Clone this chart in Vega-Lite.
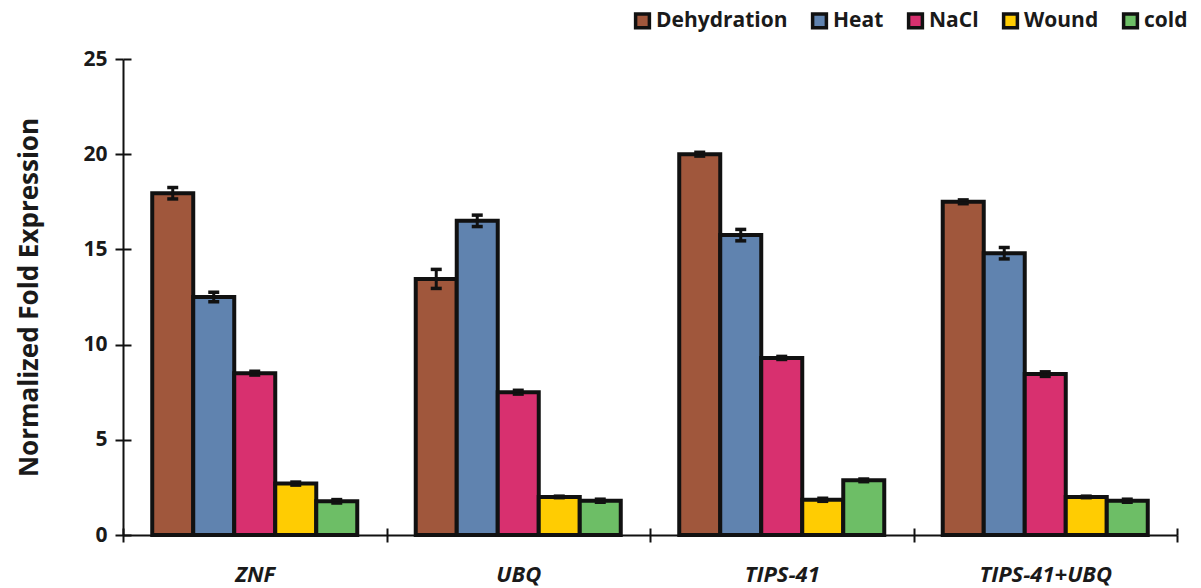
{
  "$schema": "https://vega.github.io/schema/vega-lite/v6.json",
  "autosize": {"type": "none"},
  "width": 1054,
  "height": 476,
  "padding": {"left": 123, "top": 59, "right": 24, "bottom": 53},
  "background": "white",
  "config": {"view": {"stroke": null}, "font": "Open Sans"},
  "data": {"values": [
    {"gene": "ZNF", "stress": "Dehydration", "value": 17.95, "lo": 17.65, "hi": 18.25},
    {"gene": "ZNF", "stress": "Heat", "value": 12.5, "lo": 12.25, "hi": 12.75},
    {"gene": "ZNF", "stress": "NaCl", "value": 8.5, "lo": 8.4, "hi": 8.6},
    {"gene": "ZNF", "stress": "Wound", "value": 2.7, "lo": 2.62, "hi": 2.78},
    {"gene": "ZNF", "stress": "cold", "value": 1.77, "lo": 1.68, "hi": 1.86},
    {"gene": "UBQ", "stress": "Dehydration", "value": 13.45, "lo": 12.95, "hi": 13.95},
    {"gene": "UBQ", "stress": "Heat", "value": 16.5, "lo": 16.2, "hi": 16.8},
    {"gene": "UBQ", "stress": "NaCl", "value": 7.5, "lo": 7.4, "hi": 7.6},
    {"gene": "UBQ", "stress": "Wound", "value": 2.0, "lo": 1.96, "hi": 2.04},
    {"gene": "UBQ", "stress": "cold", "value": 1.8, "lo": 1.72, "hi": 1.88},
    {"gene": "TIPS-41", "stress": "Dehydration", "value": 20.0, "lo": 19.9, "hi": 20.1},
    {"gene": "TIPS-41", "stress": "Heat", "value": 15.75, "lo": 15.45, "hi": 16.05},
    {"gene": "TIPS-41", "stress": "NaCl", "value": 9.3, "lo": 9.22, "hi": 9.38},
    {"gene": "TIPS-41", "stress": "Wound", "value": 1.85, "lo": 1.77, "hi": 1.93},
    {"gene": "TIPS-41", "stress": "cold", "value": 2.87, "lo": 2.8, "hi": 2.94},
    {"gene": "TIPS-41+UBQ", "stress": "Dehydration", "value": 17.5, "lo": 17.4, "hi": 17.6},
    {"gene": "TIPS-41+UBQ", "stress": "Heat", "value": 14.8, "lo": 14.5, "hi": 15.1},
    {"gene": "TIPS-41+UBQ", "stress": "NaCl", "value": 8.45, "lo": 8.33, "hi": 8.57},
    {"gene": "TIPS-41+UBQ", "stress": "Wound", "value": 2.0, "lo": 1.96, "hi": 2.04},
    {"gene": "TIPS-41+UBQ", "stress": "cold", "value": 1.8, "lo": 1.72, "hi": 1.88}
  ]},
  "resolve": {"axis": {"x": "independent", "y": "independent"}},
  "layer": [
    {
      "mark": {"type": "bar", "stroke": "#111111", "strokeWidth": 4},
      "encoding": {
        "x": {
          "field": "gene", "type": "nominal",
          "sort": ["ZNF", "UBQ", "TIPS-41", "TIPS-41+UBQ"],
          "scale": {"paddingInner": 0, "paddingOuter": 0},
          "axis": {
            "orient": "bottom", "title": null, "labelAngle": 0,
            "tickBand": "extent", "tickSize": 7, "tickWidth": 2, "tickColor": "#111111",
            "domainColor": "#111111", "domainWidth": 2,
            "labelFont": "Open Sans", "labelFontSize": 22, "labelFontWeight": "bold",
            "labelFontStyle": "italic", "labelColor": "#1a1a1a", "labelPadding": 22
          }
        },
        "xOffset": {
          "field": "stress", "type": "nominal",
          "sort": ["Dehydration", "Heat", "NaCl", "Wound", "cold"],
          "scale": {"paddingInner": 0, "paddingOuter": 0.713}
        },
        "y": {
          "field": "value", "type": "quantitative",
          "scale": {"domain": [0, 25], "nice": false},
          "axis": {
            "orient": "left", "title": "Normalized Fold Expression",
            "values": [0, 5, 10, 15, 20, 25], "grid": false,
            "tickSize": 8, "tickWidth": 2, "tickColor": "#111111",
            "domainColor": "#111111", "domainWidth": 2,
            "labelFont": "Open Sans", "labelFontSize": 21, "labelFontWeight": "bold",
            "labelColor": "#1a1a1a", "labelPadding": 8,
            "titleFont": "Open Sans", "titleFontSize": 26, "titleFontWeight": "bold",
            "titleColor": "#1a1a1a", "titlePadding": 40
          }
        },
        "color": {
          "field": "stress", "type": "nominal",
          "sort": ["Dehydration", "Heat", "NaCl", "Wound", "cold"],
          "scale": {
            "domain": ["Dehydration", "Heat", "NaCl", "Wound", "cold"],
            "range": ["#A0573C", "#6083AF", "#D8306F", "#FFCC02", "#6DBE66"]
          },
          "legend": {
            "title": null, "orient": "none", "direction": "horizontal",
            "legendX": 509, "legendY": -49, "columns": 5,
            "symbolType": "square", "symbolSize": 190,
            "symbolStrokeColor": "#111111", "symbolStrokeWidth": 3.5,
            "symbolOpacity": 1,
            "labelFont": "Open Sans", "labelFontSize": 21, "labelFontWeight": "bold",
            "labelColor": "#1a1a1a", "labelOffset": 3, "columnPadding": 17,
            "labelLimit": 300
          }
        }
      }
    },
    {
      "mark": {"type": "rule", "stroke": "#111111", "strokeWidth": 3},
      "encoding": {
        "x": {
          "field": "gene", "type": "nominal",
          "sort": ["ZNF", "UBQ", "TIPS-41", "TIPS-41+UBQ"],
          "axis": {
            "orient": "bottom", "offset": -7, "title": null, "labels": false,
            "domain": false, "tickBand": "extent", "tickSize": 7, "tickWidth": 2,
            "tickColor": "#111111"
          }
        },
        "xOffset": {
          "field": "stress", "type": "nominal",
          "sort": ["Dehydration", "Heat", "NaCl", "Wound", "cold"]
        },
        "y": {
          "field": "lo", "type": "quantitative",
          "axis": {
            "orient": "left", "offset": -8, "title": null, "labels": false,
            "domain": false, "grid": false, "values": [0, 5, 10, 15, 20, 25],
            "tickSize": 8, "tickWidth": 2, "tickColor": "#111111"
          }
        },
        "y2": {"field": "hi"}
      }
    },
    {
      "mark": {"type": "tick", "color": "#111111", "size": 11, "thickness": 3.5, "opacity": 1},
      "encoding": {
        "x": {"field": "gene", "type": "nominal", "sort": ["ZNF", "UBQ", "TIPS-41", "TIPS-41+UBQ"], "axis": null},
        "xOffset": {"field": "stress", "type": "nominal", "sort": ["Dehydration", "Heat", "NaCl", "Wound", "cold"]},
        "y": {"field": "lo", "type": "quantitative", "axis": null}
      }
    },
    {
      "mark": {"type": "tick", "color": "#111111", "size": 11, "thickness": 3.5, "opacity": 1},
      "encoding": {
        "x": {"field": "gene", "type": "nominal", "sort": ["ZNF", "UBQ", "TIPS-41", "TIPS-41+UBQ"], "axis": null},
        "xOffset": {"field": "stress", "type": "nominal", "sort": ["Dehydration", "Heat", "NaCl", "Wound", "cold"]},
        "y": {"field": "hi", "type": "quantitative", "axis": null}
      }
    }
  ]
}
